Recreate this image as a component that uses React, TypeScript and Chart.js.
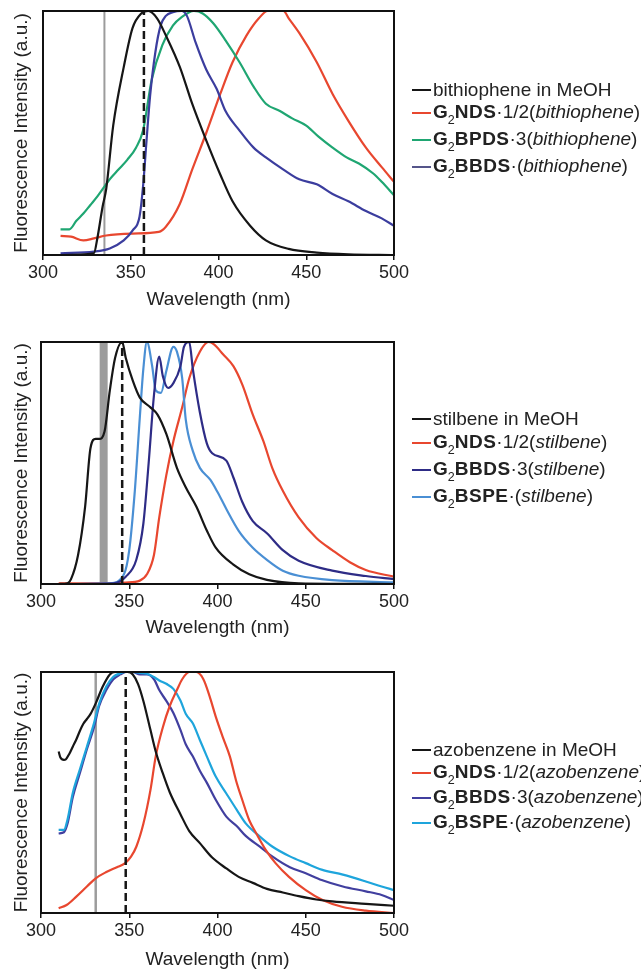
import React, { useEffect, useRef } from "react";
import { Chart, registerables } from "chart.js";
Chart.register(...registerables);

const FONT = '"Liberation Sans", Arial, Helvetica, sans-serif';

// ---------- shared axis ----------
const xTickValues = [300, 350, 400, 450, 500];
const xTitle = "Wavelength (nm)";
const yTitle = "Fluorescence Intensity (a.u.)";

// ---------- Panel 1: bithiophene ----------
const bithioMeOH_nm = [310, 329, 331, 334, 336, 340, 346, 351, 356, 360, 365, 370, 378, 385, 393, 401, 408, 418, 427, 440, 456, 474, 500];
const bithioMeOH_I = [0, 0.007, 0.07, 0.2, 0.27, 0.53, 0.77, 0.93, 0.99, 1.0, 0.97, 0.9, 0.77, 0.62, 0.47, 0.33, 0.22, 0.12, 0.06, 0.025, 0.01, 0.003, 0];

const bithioNDS_nm = [310, 316, 323, 329, 336, 351, 366, 370, 378, 385, 393, 401, 408, 416, 423, 428, 433, 437, 440, 446, 456, 465, 474, 484, 493, 500];
const bithioNDS_I = [0.078, 0.075, 0.06, 0.068, 0.08, 0.088, 0.095, 0.116, 0.21, 0.35, 0.5, 0.66, 0.79, 0.9, 0.97, 1.0, 1.0, 1.0, 0.97, 0.91, 0.79, 0.66, 0.55, 0.44, 0.36, 0.30];

const bithioBPDS_nm = [310, 315, 319, 323, 327, 331, 335, 338, 343, 348, 353, 357, 362, 368, 374, 379, 386, 391, 397, 404, 412, 420, 427, 435, 442, 450, 457, 465, 473, 480, 488, 493, 500];
const bithioBPDS_I = [0.105, 0.105, 0.14, 0.17, 0.205, 0.24, 0.28, 0.31, 0.35, 0.39, 0.44, 0.51, 0.72, 0.86, 0.94, 0.975, 1.0, 0.99, 0.95, 0.88, 0.79, 0.69, 0.62, 0.59, 0.56, 0.53, 0.485, 0.44, 0.40, 0.375, 0.335, 0.30, 0.245];

const bithioBBDS_nm = [310, 329, 338, 346, 351, 355, 357, 359, 361, 364, 367, 370, 374, 379, 382, 387, 393, 399, 404, 412, 420, 427, 437, 446, 456, 465, 474, 484, 493, 500];
const bithioBBDS_I = [0.007, 0.014, 0.027, 0.06, 0.10, 0.157, 0.28, 0.47, 0.65, 0.83, 0.94, 0.98, 0.995, 1.0, 0.98, 0.87, 0.76, 0.68, 0.59, 0.51, 0.44, 0.40, 0.35, 0.31, 0.29, 0.25, 0.22, 0.18, 0.15, 0.12];

const bithioExcitation_nm = 335;
const bithioMarker_nm = 357.5;

// ---------- Panel 2: stilbene ----------
const stilMeOH_nm = [310, 315, 317, 321, 325, 328, 331, 333, 336, 339, 342, 346, 348, 352, 356, 362, 366, 371, 377, 382, 388, 394, 399, 409, 418, 428, 446, 500];
const stilMeOH_I = [0, 0.003, 0.02, 0.12, 0.32, 0.56, 0.60, 0.60, 0.63, 0.80, 0.935, 1.0, 0.935, 0.84, 0.77, 0.73, 0.70, 0.62, 0.48, 0.40, 0.32, 0.22, 0.15, 0.08, 0.04, 0.017, 0.003, 0];

const stilNDS_nm = [310, 333, 348, 356, 360, 364, 367, 371, 375, 380, 384, 390, 395, 398, 403, 409, 414, 420, 426, 431, 437, 446, 456, 465, 475, 484, 500];
const stilNDS_I = [0.003, 0.003, 0.006, 0.014, 0.04, 0.12, 0.275, 0.45, 0.59, 0.73, 0.85, 0.96, 1.0, 0.99, 0.95, 0.90, 0.825, 0.70, 0.59, 0.48, 0.385, 0.275, 0.19, 0.14, 0.09, 0.058, 0.03];

const stilBBDS_nm = [310, 341, 348, 354, 358, 361, 364, 367, 369, 372, 375, 379, 381, 384, 386, 390, 394, 397, 405, 409, 414, 420, 428, 437, 446, 465, 484, 500];
const stilBBDS_I = [0, 0.003, 0.03, 0.10, 0.25, 0.50, 0.78, 0.94, 0.86, 0.81, 0.83, 0.90, 0.98, 1.0, 0.89, 0.71, 0.58, 0.54, 0.51, 0.44, 0.34, 0.26, 0.21, 0.14, 0.096, 0.055, 0.033, 0.02];

const stilBSPE_nm = [310, 339, 347, 350, 353, 356, 358, 360, 363, 365, 368, 371, 375, 377, 380, 382, 386, 390, 396, 400, 405, 412, 420, 428, 437, 446, 465, 500];
const stilBSPE_I = [0, 0.003, 0.04, 0.14, 0.37, 0.69, 0.89, 1.0, 0.90, 0.80, 0.79, 0.88, 0.98, 0.96, 0.85, 0.68, 0.55, 0.48, 0.43, 0.38, 0.31, 0.22, 0.15, 0.10, 0.055, 0.034, 0.016, 0.007];

const stilExcitation_nm = 335.5;
const stilMarker_nm = 346;

// ---------- Panel 3: azobenzene ----------
const azoMeOH_nm = [310, 311, 313, 314, 316, 318, 320, 322, 324, 326, 328, 331, 335, 339, 342, 346, 349, 352, 355, 358, 362, 365, 369, 373, 379, 384, 390, 397, 405, 412, 420, 428, 437, 446, 456, 465, 484, 500];
const azoMeOH_I = [0.67, 0.645, 0.635, 0.637, 0.66, 0.69, 0.72, 0.755, 0.785, 0.805, 0.825, 0.87, 0.94, 0.99, 1.0, 1.0, 1.0, 0.99, 0.95, 0.88, 0.76, 0.67, 0.58, 0.50, 0.41, 0.34, 0.29, 0.23, 0.185, 0.15, 0.125, 0.10, 0.085, 0.07, 0.056, 0.048, 0.038, 0.03];

const azoBlue_nm = [310, 313, 315, 318, 322, 326, 330, 333, 337, 341, 345, 348, 352, 356, 360, 364, 367, 371, 375, 379, 382, 386, 390, 394, 399, 405, 411, 416, 424, 431, 441, 450, 459, 471, 484, 493, 500];
const azoBBDS_I = [0.33, 0.335, 0.37, 0.48, 0.58, 0.68, 0.77, 0.86, 0.925, 0.97, 0.99, 1.0, 1.0, 0.99, 0.99, 0.97, 0.925, 0.88, 0.83, 0.76, 0.70, 0.65, 0.59, 0.54, 0.47, 0.40, 0.36, 0.32, 0.275, 0.235, 0.19, 0.165, 0.137, 0.11, 0.09, 0.075, 0.054];
const azoBSPE_I = [0.345, 0.345, 0.387, 0.498, 0.595, 0.69, 0.787, 0.87, 0.94, 0.98, 0.995, 1.0, 1.0, 0.996, 0.993, 0.979, 0.965, 0.951, 0.93, 0.882, 0.827, 0.787, 0.718, 0.649, 0.566, 0.496, 0.427, 0.372, 0.317, 0.276, 0.235, 0.207, 0.18, 0.159, 0.131, 0.11, 0.095];

const azoNDS_nm = [310, 314.5, 320, 326, 331, 337, 343, 347.5, 351, 354, 358, 362, 365, 369, 373, 377, 380, 384, 388, 392, 395.5, 399, 403, 407, 410.5, 414, 418, 422, 427.5, 433, 440.5, 450, 459.5, 470.5, 484, 500];
const azoNDS_I = [0.02, 0.033, 0.068, 0.11, 0.144, 0.17, 0.19, 0.206, 0.234, 0.275, 0.37, 0.51, 0.65, 0.77, 0.86, 0.925, 0.97, 1.0, 1.0, 0.97, 0.90, 0.815, 0.73, 0.65, 0.55, 0.47, 0.385, 0.33, 0.26, 0.206, 0.15, 0.095, 0.054, 0.026, 0.01, 0.0];

const azoExcitation_nm = 331;
const azoMarker_nm = 348;

// ---------- colours ----------
const C_BLACK = "#161616";
const C_RED = "#e8472f";
const C_GREEN = "#1fa672";
const C_BLUE1 = "#3b3d9e";
const C_DKBLUE = "#2e2c86";
const C_LTBLUE2 = "#4a8fd4";
const C_DKBLUE3 = "#413f9f";
const C_LTBLUE3 = "#1ea5dc";
const C_GRAY = "#9c9c9c";

function series(nm: number[], I: number[], color: string, order: number) {
  return {
    data: nm.map((x, i) => ({ x, y: I[i] })),
    borderColor: color,
    backgroundColor: color,
    borderWidth: 2.2,
    pointRadius: 0,
    cubicInterpolationMode: "monotone" as const,
    fill: false,
    order,
  };
}

function vline(x: number, color: string, width: number, dash: number[], order: number) {
  return {
    data: [{ x, y: 0 }, { x, y: 1 }],
    borderColor: color,
    backgroundColor: color,
    borderWidth: width,
    borderDash: dash,
    borderCapStyle: "butt" as const,
    pointRadius: 0,
    fill: false,
    order,
  };
}

const boxPlugin = {
  id: "plotBox",
  afterDatasetsDraw(chart: any) {
    const { ctx, chartArea } = chart;
    const { left, top, right, bottom } = chartArea;
    ctx.save();
    ctx.strokeStyle = "#111";
    ctx.lineWidth = 2;
    ctx.strokeRect(left, top, right - left, bottom - top);
    ctx.restore();
  },
};

type PanelProps = {
  top: number;
  height: number;
  padTop: number;
  chartLeft: number;
  chartRight: number;
  axisH: number;
  titlePad: number;
  datasets: any[];
};

function Panel(p: PanelProps) {
  const ref = useRef<HTMLCanvasElement | null>(null);
  useEffect(() => {
    if (!ref.current) return;
    const chart = new Chart(ref.current, {
      type: "line",
      data: { datasets: p.datasets },
      plugins: [boxPlugin],
      options: {
        responsive: false,
        animation: false,
        devicePixelRatio: 1,
        layout: { padding: { top: p.padTop, left: 0, right: 641 - p.chartRight, bottom: 0 } },
        plugins: { legend: { display: false }, tooltip: { enabled: false } },
        scales: {
          x: {
            type: "linear",
            min: 300,
            max: 500,
            afterBuildTicks: (s: any) => {
              s.ticks = xTickValues.map((v) => ({ value: v }));
            },
            afterFit: (s: any) => {
              s.height = p.axisH;
            },
            grid: { display: true, drawOnChartArea: false, drawTicks: true, tickLength: 5, color: "#111", lineWidth: 1.5 },
            border: { display: true, color: "#111", width: 2 },
            ticks: { font: { family: FONT, size: 18 }, color: "#222", padding: 2, maxRotation: 0, autoSkip: false },
            title: { display: true, text: xTitle, font: { family: FONT, size: 19 }, color: "#222", padding: { top: 0, bottom: p.titlePad } },
          },
          y: {
            type: "linear",
            min: 0,
            max: 1,
            afterFit: (s: any) => {
              s.width = p.chartLeft;
            },
            grid: { display: false },
            border: { display: true, color: "#111", width: 2 },
            ticks: { display: false },
            title: { display: true, text: yTitle, font: { family: FONT, size: 19 }, color: "#222", padding: { top: 10, bottom: 0 } },
          },
        },
      } as any,
    });
    return () => chart.destroy();
  }, []);
  return (
    <canvas
      ref={ref}
      width={641}
      height={p.height}
      style={{ position: "absolute", left: 0, top: p.top, width: 641, height: p.height }}
    />
  );
}

type LegendItem = { color: string; cy: number; content: React.ReactNode };

const sub2 = (
  <span style={{ fontSize: 12.5, position: "relative", top: 6, fontWeight: "normal" }}>2</span>
);

function host(bold: string, mid: string, guest: string) {
  return (
    <>
      <b>G</b>
      {sub2}
      <b style={{ letterSpacing: 0.5 }}>{bold}</b>
      {mid}(<i>{guest}</i>)
    </>
  );
}

const legend1: LegendItem[] = [
  { color: C_BLACK, cy: 90, content: "bithiophene in MeOH" },
  { color: C_RED, cy: 113, content: host("NDS", "·1/2", "bithiophene") },
  { color: C_GREEN, cy: 140, content: host("BPDS", "·3", "bithiophene") },
  { color: "#55558a", cy: 167, content: host("BBDS", "·", "bithiophene") },
];
const legend2: LegendItem[] = [
  { color: C_BLACK, cy: 419, content: "stilbene in MeOH" },
  { color: C_RED, cy: 443, content: host("NDS", "·1/2", "stilbene") },
  { color: C_DKBLUE, cy: 470, content: host("BBDS", "·3", "stilbene") },
  { color: C_LTBLUE2, cy: 497, content: host("BSPE", "·", "stilbene") },
];
const legend3: LegendItem[] = [
  { color: C_BLACK, cy: 750, content: "azobenzene in MeOH" },
  { color: C_RED, cy: 773, content: host("NDS", "·1/2", "azobenzene") },
  { color: C_DKBLUE3, cy: 798, content: host("BBDS", "·3", "azobenzene") },
  { color: C_LTBLUE3, cy: 823, content: host("BSPE", "·", "azobenzene") },
];

function Legend({ items }: { items: LegendItem[] }) {
  return (
    <>
      {items.map((it, i) => (
        <div
          key={i}
          style={{
            position: "absolute",
            left: 412,
            top: it.cy - 11,
            height: 22,
            lineHeight: "22px",
            fontFamily: FONT,
            fontSize: 19,
            color: "#222",
            whiteSpace: "nowrap",
            display: "flex",
            alignItems: "center",
          }}
        >
          <span style={{ display: "inline-block", width: 19, height: 2.5, background: it.color, marginRight: 2 }} />
          <span>{it.content}</span>
        </div>
      ))}
    </>
  );
}

export default function App() {
  const ds1 = [
    vline(bithioMarker_nm, C_BLACK, 2.5, [8, 4], 0),
    series(bithioMeOH_nm, bithioMeOH_I, C_BLACK, 1),
    series(bithioBBDS_nm, bithioBBDS_I, C_BLUE1, 2),
    series(bithioBPDS_nm, bithioBPDS_I, C_GREEN, 3),
    series(bithioNDS_nm, bithioNDS_I, C_RED, 4),
    vline(bithioExcitation_nm, C_GRAY, 2, [], 5),
  ];
  const ds2 = [
    vline(stilMarker_nm, C_BLACK, 2.5, [8, 4], 0),
    series(stilMeOH_nm, stilMeOH_I, C_BLACK, 1),
    series(stilBBDS_nm, stilBBDS_I, C_DKBLUE, 2),
    series(stilBSPE_nm, stilBSPE_I, C_LTBLUE2, 3),
    series(stilNDS_nm, stilNDS_I, C_RED, 4),
    vline(stilExcitation_nm, C_GRAY, 8, [], 5),
  ];
  const ds3 = [
    vline(azoMarker_nm, C_BLACK, 2.5, [8, 4], 0),
    series(azoMeOH_nm, azoMeOH_I, C_BLACK, 1),
    series(azoNDS_nm, azoNDS_I, C_RED, 2),
    series(azoBlue_nm, azoBSPE_I, C_LTBLUE3, 3),
    series(azoBlue_nm, azoBBDS_I, C_DKBLUE3, 4),
    vline(azoExcitation_nm, C_GRAY, 2.5, [], 5),
  ];
  return (
    <div
      style={{
        position: "absolute",
        left: 0,
        top: 0,
        width: 641,
        height: 971,
        overflow: "hidden",
        background: "#fff",
      }}
    >
      <Panel top={0} height={320} padTop={11} chartLeft={43} chartRight={394} axisH={65} titlePad={8.6} datasets={ds1} />
      <Panel top={320} height={330} padTop={22} chartLeft={41} chartRight={394} axisH={66} titlePad={10.6} datasets={ds2} />
      <Panel top={650} height={321} padTop={22} chartLeft={41} chartRight={394} axisH={58} titlePad={0} datasets={ds3} />
      <Legend items={legend1} />
      <Legend items={legend2} />
      <Legend items={legend3} />
    </div>
  );
}
